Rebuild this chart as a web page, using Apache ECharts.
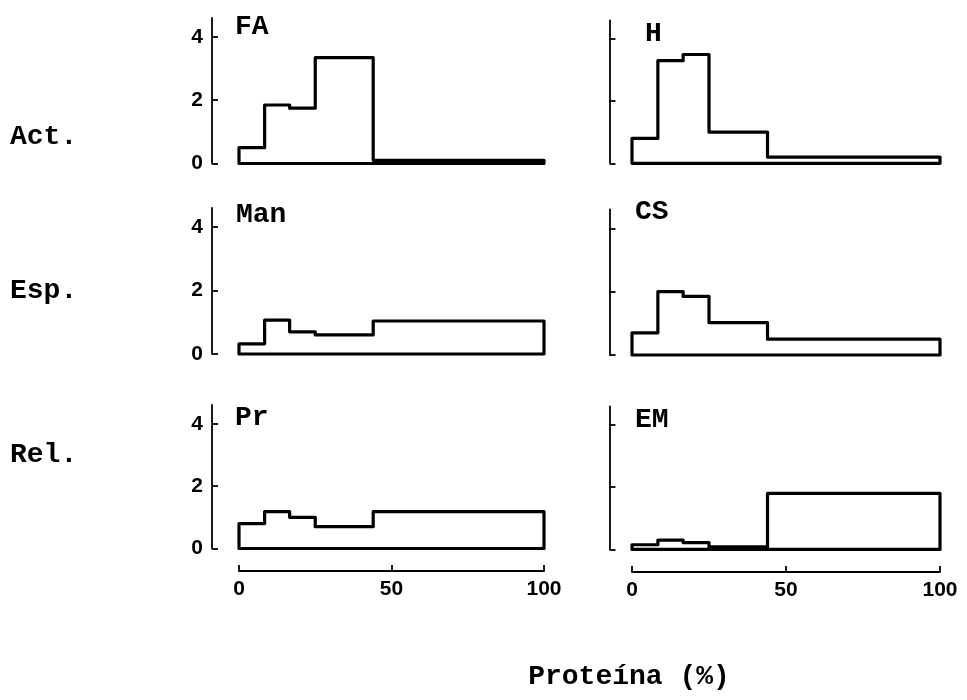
<!DOCTYPE html>
<html>
<head>
<meta charset="utf-8">
<script src="https://cdn.jsdelivr.net/npm/echarts@6/dist/echarts.min.js"></script>
<style>
html,body{margin:0;padding:0;background:#fff;}
#chart{width:967px;height:700px;}
</style>
</head>
<body>
<div id="chart"></div>
<script>
// Fraction boundaries (cumulative protein, %)
const boundaries = [0, 8.4, 16.6, 25, 44, 100];
// Relative specific activity per fraction
const FA  = [0.5, 1.85, 1.75, 3.35, 0.1];
const H   = [0.8, 3.3, 3.5, 1.0, 0.2];
const Man = [0.32, 1.07, 0.7, 0.6, 1.04];
const CS  = [0.7, 2.0, 1.85, 1.02, 0.5];
const Pr  = [0.8, 1.18, 1.0, 0.7, 1.18];
const EM  = [0.15, 0.3, 0.22, 0.08, 1.8];
const panelNames = ['FA', 'H', 'Man', 'CS', 'Pr', 'EM'];
const panelData = [FA, H, Man, CS, Pr, EM];
const rowLabels = ['Act.', 'Esp.', 'Rel.'];
const yTicks = [0, 2, 4];
const xTicks = [0, 50, 100];
const xTitle = 'Proteína (%)';

function outline(vals) {
  const pts = [[boundaries[0], 0]];
  for (let i = 0; i < vals.length; i++) {
    pts.push([boundaries[i], vals[i]]);
    pts.push([boundaries[i + 1], vals[i]]);
  }
  pts.push([boundaries[boundaries.length - 1], 0]);
  pts.push([boundaries[0], 0]);
  return pts;
}

const gridPos = [
  {left: 239, top: 18,    width: 305, height: 145.5},
  {left: 632, top: 20.3,  width: 308, height: 143},
  {left: 239, top: 208,   width: 305, height: 146},
  {left: 632, top: 209.3, width: 308, height: 145.7},
  {left: 239, top: 405,   width: 305, height: 143.5},
  {left: 632, top: 406.4, width: 308, height: 143}
];
const yOffsets = [27, 22.5, 27, 22.5, 27, 22.5];

const monoFont = 'Liberation Mono';
const sansFont = 'Liberation Sans';

const grids = [], xAxes = [], yAxes = [], series = [];
for (let i = 0; i < 6; i++) {
  const isLeft = i % 2 === 0;
  const isBottom = i >= 4;
  grids.push(Object.assign({containLabel: false}, gridPos[i]));
  xAxes.push({
    type: 'value', gridIndex: i, min: 0, max: 100, interval: 50,
    show: isBottom, offset: 22.5, position: 'bottom',
    splitLine: {show: false},
    axisLine: {show: true, onZero: false, lineStyle: {color: '#000', width: 1.8}},
    axisTick: {show: true, inside: true, length: 6, customValues: xTicks, lineStyle: {color: '#000', width: 1.8}},
    axisLabel: {show: true, customValues: xTicks, margin: 8, color: '#000',
      fontFamily: sansFont, fontWeight: 'bold', fontSize: 21}
  });
  yAxes.push({
    type: 'value', gridIndex: i, min: 0, max: 4.6,
    offset: yOffsets[i], position: 'left',
    splitLine: {show: false},
    axisLine: {show: true, onZero: false, lineStyle: {color: '#000', width: 1.8}},
    axisTick: {show: true, inside: true, length: 6, customValues: yTicks, lineStyle: {color: '#000', width: 1.8}},
    axisLabel: {show: isLeft, customValues: yTicks, margin: 9, color: '#000',
      fontFamily: sansFont, fontWeight: 'bold', fontSize: 21}
  });
  series.push({
    type: 'line', xAxisIndex: i, yAxisIndex: i,
    data: outline(panelData[i]),
    showSymbol: false, symbol: 'none', silent: true, clip: false,
    lineStyle: {color: '#000', width: 3.2, join: 'round', cap: 'round'},
    animation: false
  });
}

const panelLabelPos = [
  [235, 27], [645, 34], [236, 215], [635, 212], [235, 418], [635, 420]
];
const rowLabelPos = [[10, 137], [10, 291], [10, 455]];

const graphics = [];
panelNames.forEach((t, i) => {
  graphics.push({type: 'text', x: panelLabelPos[i][0], y: panelLabelPos[i][1],
    style: {text: t, fill: '#000', font: 'bold 28px "' + monoFont + '"', align: 'left', verticalAlign: 'middle',
      textAlign: 'left', textVerticalAlign: 'middle'}});
});
rowLabels.forEach((t, i) => {
  graphics.push({type: 'text', x: rowLabelPos[i][0], y: rowLabelPos[i][1],
    style: {text: t, fill: '#000', font: 'bold 28px "' + monoFont + '"', align: 'left', verticalAlign: 'middle',
      textAlign: 'left', textVerticalAlign: 'middle'}});
});
graphics.push({type: 'text', x: 629, y: 677,
  style: {text: xTitle, fill: '#000', font: 'bold 28px "' + monoFont + '"', align: 'center', verticalAlign: 'middle',
    textAlign: 'center', textVerticalAlign: 'middle'}});

const chart = echarts.init(document.getElementById('chart'), null, {renderer: 'canvas'});
chart.setOption({
  backgroundColor: '#fff',
  animation: false,
  grid: grids,
  xAxis: xAxes,
  yAxis: yAxes,
  series: series,
  graphic: graphics
});
</script>
</body>
</html>
